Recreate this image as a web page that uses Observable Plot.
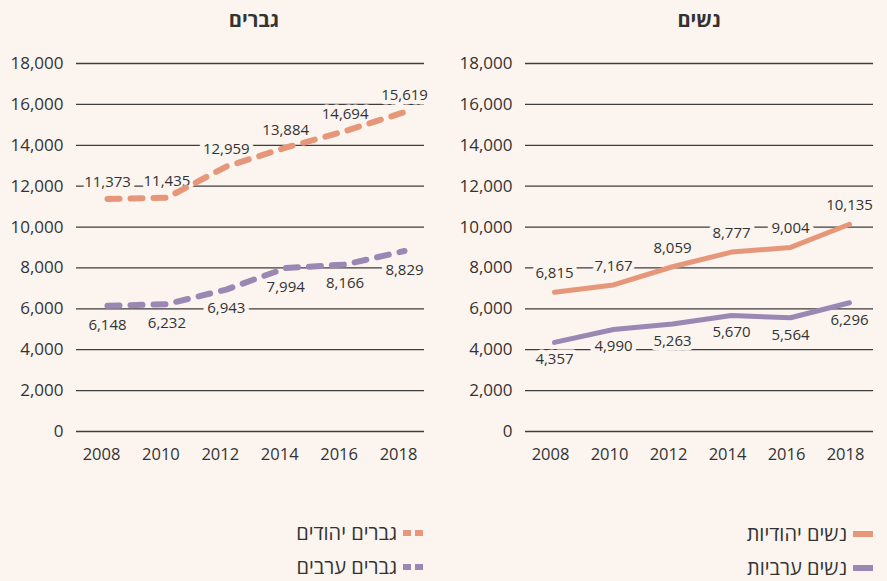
<!DOCTYPE html>
<html><head><meta charset="utf-8">
<script src="https://cdn.jsdelivr.net/npm/d3@7"></script>
<script src="https://cdn.jsdelivr.net/npm/@observablehq/plot@0.6"></script>
<style>
body{margin:0;background:#fbf4ef;font-family:"Open Sans","DejaVu Sans",sans-serif;}
#wrap{position:relative;width:887px;height:581px;overflow:hidden;background:#fbf4ef;}
.title{position:absolute;top:8px;font-weight:bold;font-size:20px;line-height:24px;color:#333;transform:translateX(-50%);white-space:nowrap;}
.panel{position:absolute;top:40px;}
.leg{position:absolute;display:flex;direction:rtl;align-items:center;font-size:20px;line-height:18px;color:#333;white-space:nowrap;}
.leg svg{margin-left:6px;display:block;}
</style></head>
<body>
<div id="wrap"></div>
<script>
// ---- data ----
const years = [2008, 2010, 2012, 2014, 2016, 2018];
const menJewish = [11373, 11435, 12959, 13884, 14694, 15619];
const menArab = [6148, 6232, 6943, 7994, 8166, 8829];
const womenJewish = [6815, 7167, 8059, 8777, 9004, 10135];
const womenArab = [4357, 4990, 5263, 5670, 5564, 6296];
const yTicks = [0, 2000, 4000, 6000, 8000, 10000, 12000, 14000, 16000, 18000];
const panelTitles = ["גברים", "נשים"];
const menLegend = ["גברים יהודים", "גברים ערבים"];
const womenLegend = ["נשים יהודיות", "נשים ערביות"];

const BG = "#fbf4ef";
const ORANGE = "#e6977a";
const PURPLE = "#9b87b4";
const INK = "#333333";
const fmt = d3.format(",");

const wrap = document.getElementById("wrap");

function panel({jewish, arab, left, width, marginLeft, marginRight, xRange, tickDx, dashed, dyJ, dyA}) {
  const rows = years.map((y, i) => ({year: y, jewish: jewish[i], arab: arab[i]}));
  const lineOpts = dashed
    ? {strokeWidth: 6, strokeDasharray: "12,11", strokeLinecap: "round"}
    : {strokeWidth: 5, strokeLinecap: "round"};
  const chart = Plot.plot({
    width, height: 431,
    marginTop: 23, marginBottom: 40, marginLeft, marginRight,
    x: {type: "linear", domain: [2008, 2018], range: xRange},
    y: {domain: [0, 18000]},
    style: {background: "transparent", fontFamily: '"Open Sans","DejaVu Sans",sans-serif', color: INK},
    marks: [
      Plot.ruleY(yTicks, {stroke: "#3d3d3d", strokeWidth: 1.3}),
      Plot.axisY({ticks: yTicks, tickSize: 0, tickPadding: 13, tickFormat: fmt, fontSize: 17, label: null, fill: INK}),
      Plot.axisX({ticks: years, tickSize: 0, tickPadding: 17, tickFormat: d => String(d), fontSize: 16.5, label: null, dx: tickDx, fill: INK}),
      Plot.text(rows, {x: "year", y: "jewish", text: d => fmt(d.jewish), dy: dyJ, fontSize: 15, fill: INK, stroke: BG, strokeWidth: 9}),
      Plot.text(rows, {x: "year", y: "arab", text: d => fmt(d.arab), dy: dyA, fontSize: 15, fill: INK, stroke: BG, strokeWidth: 9}),
      Plot.line(rows, {x: "year", y: "jewish", stroke: ORANGE, ...lineOpts}),
      Plot.line(rows, {x: "year", y: "arab", stroke: PURPLE, ...lineOpts})
    ]
  });
  chart.classList.add("panel");
  chart.style.left = left + "px";
  wrap.appendChild(chart);
}

panel({jewish: menJewish, arab: menArab, left: 0, width: 440, marginLeft: 76, marginRight: 16,
       xRange: [107, 404], tickDx: -6, dashed: true, dyJ: -17, dyA: 19});
panel({jewish: womenJewish, arab: womenArab, left: 443, width: 444, marginLeft: 82, marginRight: 14,
       xRange: [554, 849].map(v => v - 443), tickDx: -4, dashed: false, dyJ: -19, dyA: 17});

// titles
[[panelTitles[0], 254], [panelTitles[1], 699]].forEach(([t, cx]) => {
  const d = document.createElement("div");
  d.className = "title"; d.textContent = t; d.style.left = cx + "px";
  wrap.appendChild(d);
});

// legends
function swatch(color, dashed) {
  const ns = "http://www.w3.org/2000/svg";
  const s = document.createElementNS(ns, "svg");
  s.setAttribute("width", 20); s.setAttribute("height", 6);
  const parts = dashed ? [[0, 8], [12, 8]] : [[0, 20]];
  parts.forEach(([x, w]) => {
    const r = document.createElementNS(ns, "rect");
    r.setAttribute("x", x); r.setAttribute("y", 0); r.setAttribute("width", w); r.setAttribute("height", 6);
    r.setAttribute("fill", color); s.appendChild(r);
  });
  return s;
}
function legendItem(label, color, dashed, right, top) {
  const d = document.createElement("div");
  d.className = "leg";
  d.style.right = right + "px"; d.style.top = top + "px";
  d.appendChild(swatch(color, dashed));
  const sp = document.createElement("span"); sp.textContent = label;
  d.appendChild(sp);
  wrap.appendChild(d);
}
legendItem(menLegend[0], ORANGE, true, 464, 524);
legendItem(menLegend[1], PURPLE, true, 464, 558);
legendItem(womenLegend[0], ORANGE, false, 14, 525);
legendItem(womenLegend[1], PURPLE, false, 14, 559);
</script>
</body></html>
